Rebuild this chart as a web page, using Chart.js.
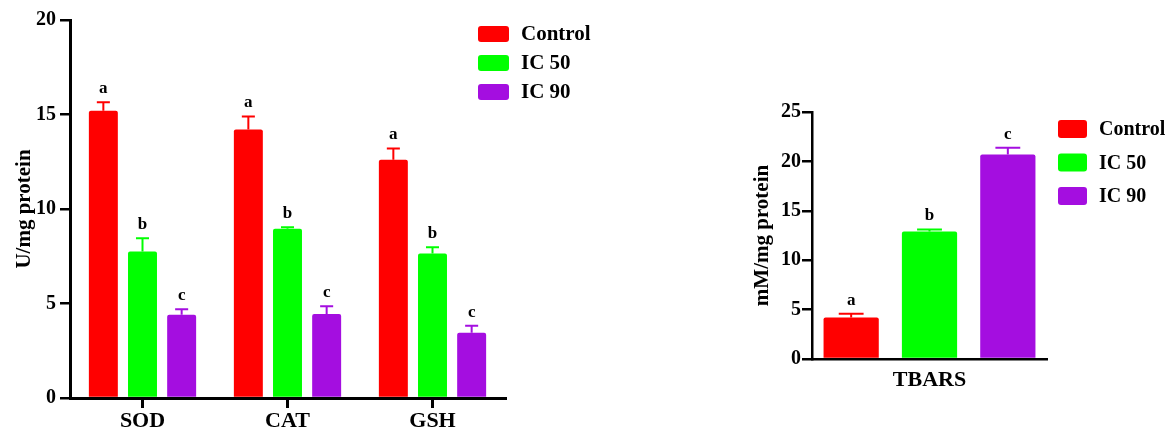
<!DOCTYPE html>
<html>
<head>
<meta charset="utf-8">
<script src="https://cdn.jsdelivr.net/npm/chart.js@4.4.1/dist/chart.umd.min.js"></script>
<style>
    body { margin: 0; background: #fff; width: 1172px; height: 430px; overflow: hidden; position: relative; }
    #box1 { position: absolute; left: 0; top: 0; width: 640px; height: 430px; }
    #box2 { position: absolute; left: 730px; top: 90px; width: 442px; height: 340px; }
</style>
</head>
<body>
<div id="box1"><canvas id="enzymeChart"></canvas></div>
<div id="box2"><canvas id="tbarsChart"></canvas></div>
<script>
// groups + colours
const groups = ['Control', 'IC 50', 'IC 90'];
const colors = ['#ff0000', '#00ff00', '#a40ee0'];

// left panel: antioxidant enzymes
const enzymes = ['SOD', 'CAT', 'GSH'];
const controlVals = [15.2, 14.2, 12.6];
const ic50Vals = [7.75, 8.95, 7.65];
const ic90Vals = [4.4, 4.45, 3.45];
const controlErr = [0.45, 0.7, 0.6];
const ic50Err = [0.7, 0.08, 0.32];
const ic90Err = [0.3, 0.4, 0.37];
const controlLetters = ['a', 'a', 'a'];
const ic50Letters = ['b', 'b', 'b'];
const ic90Letters = ['c', 'c', 'c'];
const enzymeTicks = [0, 5, 10, 15, 20];

// right panel: TBARS
const tbarsLabels = ['TBARS'];
const tbarsVals = [4.2, 12.9, 20.7];
const tbarsErr = [0.37, 0.2, 0.67];
const tbarsLetters = ['a', 'b', 'c'];
const tbarsTicks = [0, 5, 10, 15, 20, 25];

const SERIF = "'Liberation Serif', 'Times New Roman', serif";
Chart.defaults.color = '#000';
Chart.defaults.font.family = SERIF;

// upward error bars + significance letters
const errorBars = {
    id: 'errorBars',
    afterDatasetsDraw(chart) {
        const ctx = chart.ctx;
        const y = chart.scales.y;
        chart.data.datasets.forEach((ds, i) => {
            const meta = chart.getDatasetMeta(i);
            meta.data.forEach((bar, j) => {
                const top = y.getPixelForValue(ds.data[j] + ds.err[j]);
                const cap = bar.width * 0.45;
                ctx.save();
                ctx.strokeStyle = ds.backgroundColor;
                ctx.lineWidth = 2;
                ctx.beginPath();
                ctx.moveTo(bar.x, bar.y);
                ctx.lineTo(bar.x, top);
                ctx.moveTo(bar.x - cap / 2, top);
                ctx.lineTo(bar.x + cap / 2, top);
                ctx.stroke();
                ctx.fillStyle = '#000';
                ctx.font = 'bold 17px ' + SERIF;
                ctx.textAlign = 'center';
                ctx.textBaseline = 'bottom';
                ctx.fillText(ds.letters[j], bar.x, top - 5);
                ctx.restore();
            });
        });
    }
};

// legend drawn at a fixed spot (overlaps the plot area's empty corner)
const boxLegend = {
    id: 'boxLegend',
    afterDraw(chart, args, opts) {
        const ctx = chart.ctx;
        chart.data.datasets.forEach((ds, i) => {
            const cy = opts.y + i * opts.rowH;
            ctx.save();
            ctx.fillStyle = ds.backgroundColor;
            ctx.beginPath();
            ctx.roundRect(opts.x, cy - opts.boxH / 2, opts.boxW, opts.boxH, 3);
            ctx.fill();
            ctx.fillStyle = '#000';
            ctx.font = 'bold ' + opts.size + 'px ' + SERIF;
            ctx.textBaseline = 'middle';
            ctx.fillText(ds.label, opts.x + opts.boxW + 12, cy + 1);
            ctx.restore();
        });
    }
};

function makeDatasets(vals, errs, letters) {
    return groups.map((g, i) => ({
        label: g,
        data: vals[i],
        err: errs[i],
        letters: letters[i],
        backgroundColor: colors[i]
    }));
}

function yAxis(max, ticks, title, width, titlePad, axisW, tickPad) {
    return {
        min: 0, max: max,
        afterBuildTicks: s => { s.ticks = ticks.map(v => ({ value: v })); },
        grid: { drawOnChartArea: false, tickLength: 10, color: '#000', lineWidth: 2.5 },
        border: { color: '#000', width: axisW },
        ticks: { font: { size: 20, weight: 'bold' }, padding: tickPad },
        title: { display: true, text: title, font: { size: 21, weight: 'bold' }, padding: { top: titlePad, bottom: 0 } },
        afterFit: s => { s.width = width; }
    };
}

new Chart(document.getElementById('enzymeChart'), {
    type: 'bar',
    data: {
        labels: enzymes,
        datasets: makeDatasets([controlVals, ic50Vals, ic90Vals], [controlErr, ic50Err, ic90Err], [controlLetters, ic50Letters, ic90Letters])
    },
    options: {
        responsive: true,
        maintainAspectRatio: false,
        animation: false,
        layout: { padding: { left: 0, top: 20, right: 135, bottom: 0 } },
        datasets: { bar: { barPercentage: 0.74, categoryPercentage: 0.81, borderRadius: 2 } },
        plugins: {
            legend: { display: false },
            tooltip: { enabled: false },
            boxLegend: { x: 478, y: 34, rowH: 29, boxW: 31, boxH: 16, size: 21 }
        },
        scales: {
            x: {
                grid: { drawOnChartArea: false, offset: false, tickLength: 10, color: '#000', lineWidth: 3 },
                border: { color: '#000', width: 3 },
                ticks: { font: { size: 22, weight: 'bold' }, padding: 0 },
                afterFit: s => { s.height = 32; }
            },
            y: yAxis(20, enzymeTicks, 'U/mg protein', 70, 12, 3, 4)
        }
    },
    plugins: [errorBars, boxLegend]
});

new Chart(document.getElementById('tbarsChart'), {
    type: 'bar',
    data: {
        labels: tbarsLabels,
        datasets: makeDatasets([[tbarsVals[0]], [tbarsVals[1]], [tbarsVals[2]]], [[tbarsErr[0]], [tbarsErr[1]], [tbarsErr[2]]], [[tbarsLetters[0]], [tbarsLetters[1]], [tbarsLetters[2]]])
    },
    options: {
        responsive: true,
        maintainAspectRatio: false,
        animation: false,
        layout: { padding: { left: 0, top: 22, right: 125, bottom: 41 } },
        datasets: { bar: { barPercentage: 0.705, categoryPercentage: 1.0, borderRadius: 2 } },
        plugins: {
            legend: { display: false },
            tooltip: { enabled: false },
            boxLegend: { x: 328, y: 39, rowH: 33.5, boxW: 29, boxH: 18, size: 20 }
        },
        scales: {
            x: {
                grid: { drawOnChartArea: false, drawTicks: false },
                border: { color: '#000', width: 2.5 },
                ticks: { font: { size: 22, weight: 'bold' }, padding: 8 },
                afterFit: s => { s.height = 30; }
            },
            y: yAxis(25, tbarsTicks, 'mM/mg protein', 82, 20, 2.5, 1)
        }
    },
    plugins: [errorBars, boxLegend]
});
</script>
</body>
</html>
